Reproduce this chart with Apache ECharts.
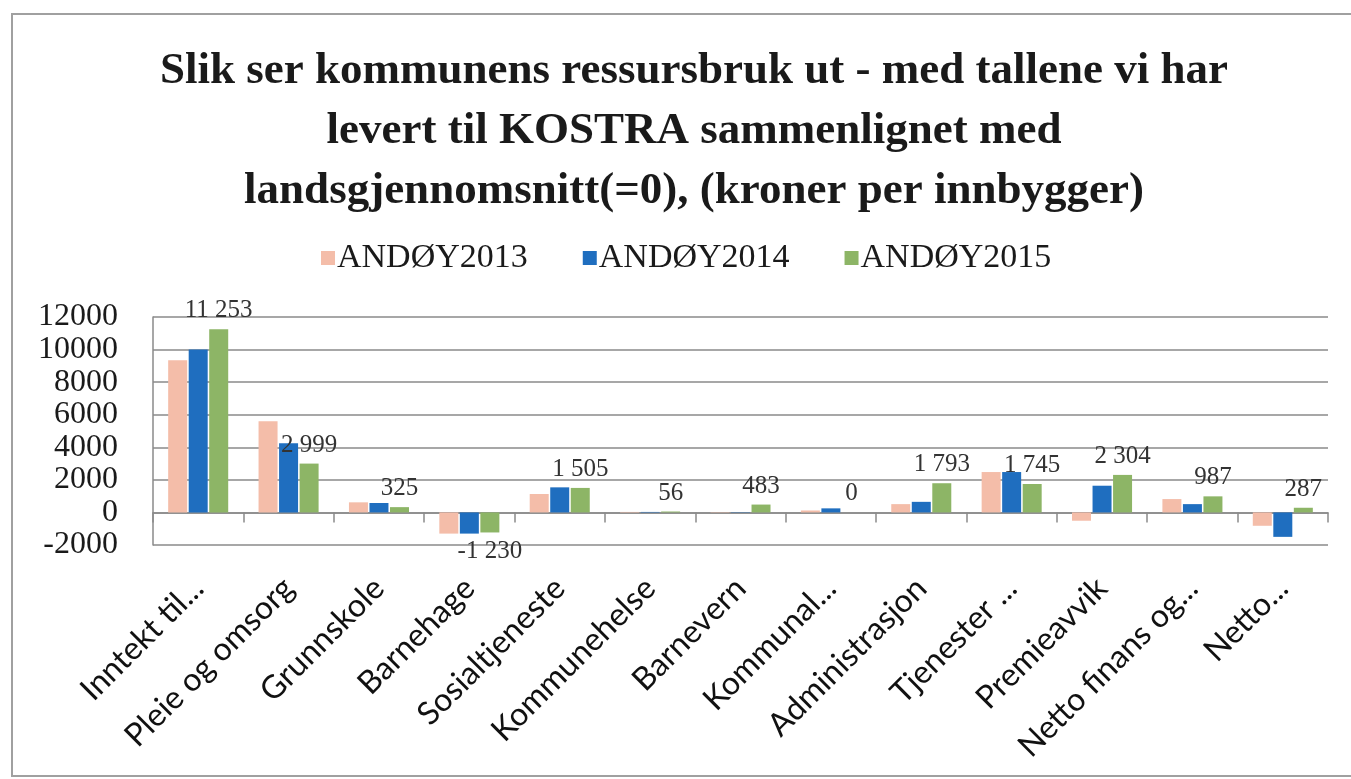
<!DOCTYPE html>
<html>
<head>
<meta charset="utf-8">
<script src="https://cdn.jsdelivr.net/npm/echarts@6/dist/echarts.min.js"></script>
<style>
  html, body { margin: 0; padding: 0; background: #fff; }
  #chart { width: 1351px; height: 779px; }
</style>
</head>
<body>
<div id="chart"></div>
<script>
// kategorier og verdier lest av bildet
const categories = ['Inntekt til...', 'Pleie og omsorg', 'Grunnskole', 'Barnehage', 'Sosialtjeneste',
  'Kommunehelse', 'Barnevern', 'Kommunal...', 'Administrasjon', 'Tjenester ...', 'Premieavvik',
  'Netto finans og...', 'Netto...']
const seriesNames = ['ANDØY2013', 'ANDØY2014', 'ANDØY2015']
const v2013 = [9350, 5600, 620, -1300, 1130, 30, 20, 120, 510, 2480, -510, 820, -820]
const v2014 = [10000, 4250, 580, -1300, 1540, 30, 20, 250, 650, 2480, 1640, 510, -1500]
const v2015 = [11253, 2999, 325, -1230, 1505, 56, 483, 0, 1793, 1745, 2304, 987, 287]
const yTicks = { min: -2000, max: 12000, interval: 2000 }

const colors = ['#F4BDA9', '#1F6EBF', '#8DB566']

function fmt(v) {
  const s = String(Math.abs(v)).replace(/\B(?=(\d{3})+(?!\d))/g, ' ')
  return (v < 0 ? '-' : '') + s
}

const chart = echarts.init(document.getElementById('chart'))
const option = {
  backgroundColor: '#fff',
  animation: false,
  color: colors,
  title: {
    text: 'Slik ser kommunens ressursbruk ut - med tallene vi har\nlevert til KOSTRA sammenlignet med\nlandsgjennomsnitt(=0), (kroner per innbygger)',
    left: 689,
    textAlign: 'center',
    top: 36,
    textStyle: {
      fontFamily: 'Liberation Serif',
      fontWeight: 'bold',
      fontSize: 45,
      lineHeight: 60,
      color: '#1a1a1a'
    }
  },
  legend: {
    data: seriesNames,
    left: 316,
    top: 236,
    itemWidth: 14,
    itemHeight: 14,
    itemGap: 55,
    icon: 'rect',
    textStyle: { fontFamily: 'Liberation Serif', fontSize: 34, color: '#1a1a1a', padding: [0, 0, 0, -3] }
  },
  grid: { left: 153, right: 23, top: 317, bottom: 234 },
  xAxis: {
    type: 'category',
    data: categories,
    axisLine: { lineStyle: { color: '#8a8a8a', width: 1.5 } },
    axisTick: { show: true, length: 10, lineStyle: { color: '#8a8a8a', width: 1.5 } },
    axisLabel: {
      interval: 0,
      rotate: 45,
      margin: 38,
      fontFamily: 'Lato',
      fontSize: 32,
      color: '#111'
    }
  },
  yAxis: {
    type: 'value',
    min: yTicks.min,
    max: yTicks.max,
    interval: yTicks.interval,
    axisLine: { show: true, lineStyle: { color: '#8a8a8a', width: 1.5 } },
    axisTick: { show: false },
    splitLine: { lineStyle: { color: '#8a8a8a', width: 1.5 } },
    axisLabel: {
      margin: 35,
      hideOverlap: false,
      fontFamily: 'Liberation Serif',
      fontSize: 32,
      lineHeight: 28,
      color: '#1a1a1a',
      formatter: v => String(v)
    }
  },
  graphic: [{
    type: 'rect',
    shape: { x: 12, y: 14, width: 1350, height: 762 },
    style: { fill: 'none', stroke: '#a0a0a0', lineWidth: 2 },
    silent: true
  }],
  series: [
    { name: seriesNames[0], type: 'bar', data: v2013, barWidth: 19, barGap: '8%' },
    { name: seriesNames[1], type: 'bar', data: v2014, barWidth: 19, barGap: '8%' },
    {
      name: seriesNames[2], type: 'bar', barWidth: 19, barGap: '8%',
      data: v2015.map(v => ({ value: v, label: { position: v < 0 ? 'bottom' : 'top' } })),
      label: {
        show: true,
        distance: 6,
        fontFamily: 'Liberation Serif',
        fontSize: 25,
        color: '#333',
        formatter: p => fmt(p.value)
      }
    }
  ]
}
chart.setOption(option)
</script>
</body>
</html>
